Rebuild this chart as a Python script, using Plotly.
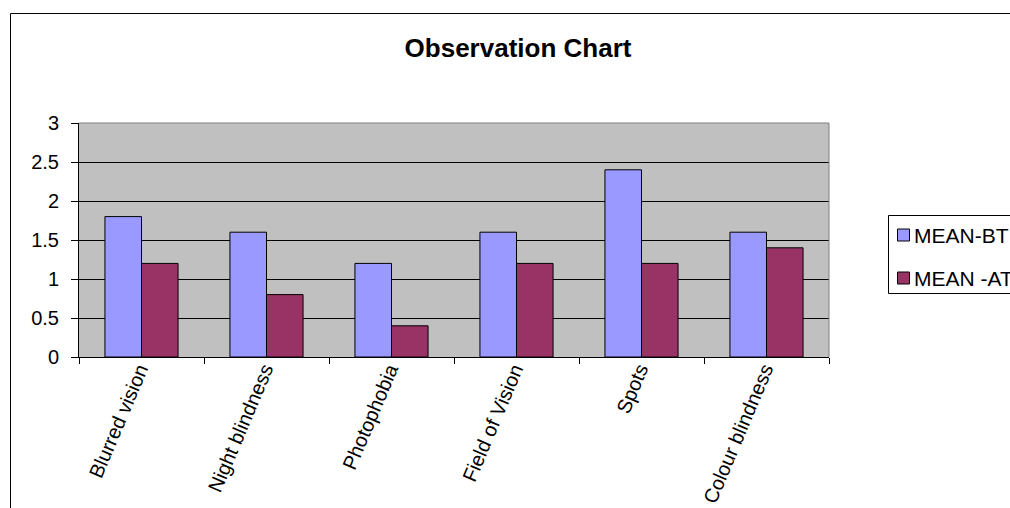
import plotly.graph_objects as go

# Symptom scores before (BT) and after (AT) treatment
categories = ["Blurred vision", "Night blindness", "Photophobia",
              "Field of Vision", "Spots", "Colour blindness"]
mean_bt = [1.8, 1.6, 1.2, 1.6, 2.4, 1.6]
mean_at = [1.2, 0.8, 0.4, 1.2, 1.2, 1.4]
series_names = ["MEAN-BT", "MEAN -AT"]
series_colors = ["#9999FF", "#993366"]
y_ticks = [0, 0.5, 1, 1.5, 2, 2.5, 3]

FONT = "Liberation Sans, Arial, sans-serif"
W, H = 1010, 508
# plot area in pixels
PL, PR, PT, PB = 79, 829, 123, 357


def px_x(p):
    return (p - PL) / (PR - PL)


def px_y(p):
    return (PB - p) / (PB - PT)


def hline(x0, x1, y, color="#000000"):
    return dict(type="line", xref="paper", yref="paper",
                x0=px_x(x0), x1=px_x(x1), y0=px_y(y), y1=px_y(y),
                line=dict(color=color, width=1))


def vline(x, y0, y1, color="#000000"):
    return dict(type="line", xref="paper", yref="paper",
                x0=px_x(x), x1=px_x(x), y0=px_y(y0), y1=px_y(y1),
                line=dict(color=color, width=1))


fig = go.Figure()
for name, vals, col in zip(series_names, [mean_bt, mean_at], series_colors):
    fig.add_trace(go.Bar(
        x=categories, y=vals, name=name,
        marker=dict(color=col, line=dict(color="#000000", width=1)),
        showlegend=False,
    ))

shapes = [
    # outer chart frame (top and left edges)
    hline(10.5, 1012, 13.5),
    vline(10.5, 13.5, 512),
    # grey plot-area border on top and right
    dict(type="line", xref="paper", yref="paper",
         x0=0, x1=1, y0=1, y1=1, line=dict(color="#808080", width=1)),
    dict(type="line", xref="paper", yref="paper",
         x0=1, x1=1, y0=0, y1=1, line=dict(color="#808080", width=1)),
    # legend frame
    hline(888.5, 1012, 215.5),
    hline(888.5, 1012, 293.5),
    vline(888.5, 215.5, 293.5),
]
annotations = []
for i, (name, col) in enumerate(zip(series_names, series_colors)):
    cy = 235 + i * 43
    shapes.append(dict(type="rect", xref="paper", yref="paper",
                       x0=px_x(897.5), x1=px_x(909.5), y0=px_y(cy + 6), y1=px_y(cy - 6),
                       line=dict(color="#000000", width=1), fillcolor=col))
    annotations.append(dict(text=name, xref="paper", yref="paper",
                            x=px_x(912), y=px_y(cy), xanchor="left", yanchor="middle",
                            showarrow=False, font=dict(family=FONT, size=21, color="#000000")))

fig.update_layout(
    width=W, height=H,
    margin=dict(l=PL, r=W - PR, t=PT, b=H - PB, autoexpand=False),
    paper_bgcolor="#FFFFFF", plot_bgcolor="#C0C0C0",
    barmode="group", bargap=0.415, bargroupgap=0,
    title=dict(text="<b>Observation Chart</b>", x=518 / W, xanchor="center",
               y=1 - 48 / H, yanchor="middle", yref="container",
               font=dict(family=FONT, size=26, color="#000000")),
    font=dict(family=FONT, color="#000000"),
    shapes=shapes, annotations=annotations,
    xaxis=dict(type="category", showgrid=False, showline=True, linecolor="#000000",
               linewidth=1, ticks="outside", ticklen=6, tickcolor="#000000",
               tickson="boundaries", tickangle=-67, automargin=False,
               ticklabelstandoff=-8, ticklabelshift=-2,
               tickfont=dict(family=FONT, size=20, color="#000000")),
    yaxis=dict(range=[0, 3], tickvals=y_ticks, ticktext=[f"{v:g}" for v in y_ticks],
               showgrid=True, gridcolor="#000000", gridwidth=1,
               showline=True, linecolor="#000000", linewidth=1,
               ticks="outside", ticklen=7, tickcolor="#000000", zeroline=False,
               ticklabelstandoff=8, automargin=False,
               tickfont=dict(family=FONT, size=20, color="#000000")),
)

fig.write_html("out.html")
